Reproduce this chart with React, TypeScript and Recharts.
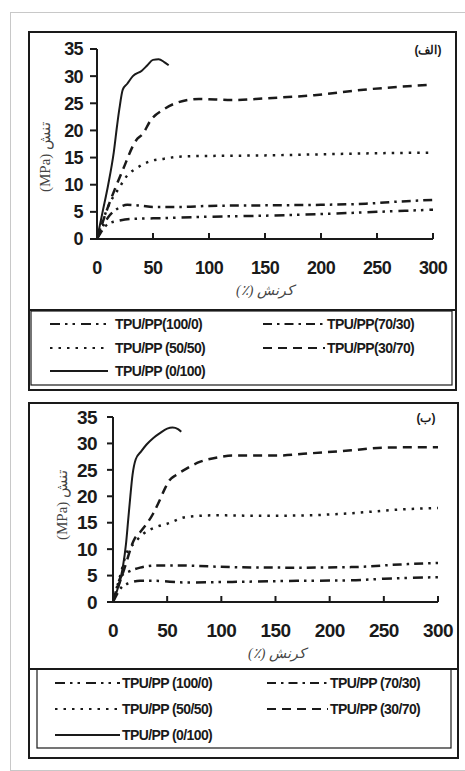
import React from 'react';
import { LineChart, Line, XAxis, YAxis } from 'recharts';

type Pt = { strain: number; stress: number };

const strainTicks = [0, 50, 100, 150, 200, 250, 300];
const stressTicks = [0, 5, 10, 15, 20, 25, 30, 35];

const toPts = (rows: number[][]): Pt[] => rows.map(([strain, stress]) => ({ strain, stress }));

// Panel (الف): stress–strain curves
const alef_100_0 = toPts([[0, 0], [10, 2.8], [20, 3.4], [30, 3.7], [50, 3.8], [100, 4.1], [150, 4.3], [200, 4.6], [250, 5.0], [300, 5.4]]);
const alef_70_30 = toPts([[0, 0], [10, 4.0], [20, 5.8], [27, 6.3], [40, 6.1], [50, 5.9], [75, 5.9], [100, 6.1], [150, 6.2], [200, 6.3], [240, 6.5], [270, 6.9], [300, 7.2]]);
const alef_50_50 = toPts([[0, 0], [10, 6.0], [20, 9.5], [27, 11.7], [35, 13.0], [47, 14.3], [60, 14.8], [76, 15.2], [100, 15.3], [150, 15.4], [200, 15.6], [250, 15.8], [300, 15.9]]);
const alef_30_70 = toPts([[0, 0], [10, 6.0], [23, 12.7], [35, 18.2], [41, 19.4], [48, 21.9], [59, 23.8], [70, 25.0], [91, 25.8], [120, 25.6], [150, 25.9], [194, 26.5], [238, 27.5], [297, 28.4]]);
const alef_0_100 = toPts([[0, 0], [5, 5], [10, 10], [15, 16], [18, 21], [20, 24], [23, 27.5], [27, 28.6], [32, 30], [40, 31], [45, 32], [50, 33], [55, 33.1], [60, 32.6], [64, 32]]);

// Panel (ب): stress–strain curves
const be_100_0 = toPts([[0, 0], [8, 2.8], [15, 3.6], [25, 4.0], [40, 4.0], [65, 3.7], [110, 3.8], [170, 4.0], [220, 4.1], [250, 4.4], [300, 4.7]]);
const be_70_30 = toPts([[0, 0], [8, 5.0], [15, 5.8], [25, 6.5], [40, 6.9], [60, 6.9], [110, 6.6], [170, 6.5], [220, 6.6], [265, 7.1], [300, 7.4]]);
const be_50_50 = toPts([[0, 0], [8, 6.0], [12, 9.0], [20, 11.2], [28, 12.9], [40, 14.2], [50, 14.8], [68, 16.1], [95, 16.4], [140, 16.3], [180, 16.4], [220, 16.8], [265, 17.5], [300, 17.8]]);
const be_30_70 = toPts([[0, 0], [10, 6.0], [20, 12.0], [25, 13.2], [37, 16.7], [43, 19.2], [48, 21.5], [52, 23.0], [58, 24.0], [65, 24.9], [80, 26.5], [98, 27.4], [110, 27.7], [150, 27.7], [180, 28.1], [220, 28.7], [250, 29.2], [300, 29.3]]);
const be_0_100 = toPts([[0, 0], [5, 3], [9, 6.5], [12, 11], [14, 15.5], [16, 20], [18, 24], [21, 27], [26, 28.5], [31, 29.8], [37, 31], [43, 31.9], [50, 32.8], [55, 33], [60, 32.7], [63, 32.2]]);

const alefNames = ['TPU/PP(100/0)', 'TPU/PP(70/30)', 'TPU/PP (50/50)', 'TPU/PP(30/70)', 'TPU/PP (0/100)'];
const beNames = ['TPU/PP (100/0)', 'TPU/PP (70/30)', 'TPU/PP (50/50)', 'TPU/PP (30/70)', 'TPU/PP (0/100)'];

const dashes = ['10 5 2.5 5 2.5 6', '9 5 2.5 5', '2.5 6', '9 6', ''];
const widths = [2.5, 2.5, 2.5, 2.5, 2];

const INK = '#1a1a1a';
const SANS = "'Liberation Sans', Arial, sans-serif";
const SERIF = "'Liberation Serif', 'DejaVu Serif', serif";

type Layout = {
  left: number; top: number; width: number; height: number;
  chartH: number;
  margin: { top: number; right: number; left: number; bottom: number };
  yAxisW: number; xAxisH: number;
  yTickSize: number; yTickMargin: number; tickFont: number;
  xLabelDy: number;
  yTitle: { x: number; y: number };
  xTitle: { x: number; y: number };
  tag: { x: number; y: number; text: string };
  legend: { left: number; top: number; width: number; height: number; rows: number[]; colL: [number, number, number]; colR: [number, number, number] };
};

const XTick = (props: any) => {
  const { x, y, payload, dyLabel, fontSize } = props;
  return (
    <g>
      {payload.value !== 0 && <line x1={x} x2={x} y1={y} y2={y - 6} stroke={INK} strokeWidth={2} />}
      <text x={x} y={y + dyLabel} textAnchor="middle" dominantBaseline="central" fill={INK}
        fontFamily={SANS} fontWeight={700} fontSize={fontSize} letterSpacing={-0.6}>
        {payload.value}
      </text>
    </g>
  );
};

const Panel = ({ layout, series, names }: { layout: Layout; series: Pt[][]; names: string[] }) => {
  const L = layout;
  const lg = L.legend;
  const chartW = L.width;
  return (
    <div style={{ position: 'absolute', left: L.left, top: L.top, width: L.width, height: L.height }}>
      <div style={{ position: 'absolute', left: -2, top: -2, width: L.width, height: L.height, border: `2px solid ${INK}` }} />
      <div style={{ position: 'absolute', left: 0, top: 0 }}>
        <LineChart width={chartW} height={L.chartH} margin={L.margin}>
          <XAxis dataKey="strain" type="number" domain={[0, 300]} ticks={strainTicks} allowDataOverflow
            height={L.xAxisH} tickSize={0} tickMargin={0} tickLine={false} interval={0}
            axisLine={{ stroke: INK, strokeWidth: 2 }}
            tick={<XTick dyLabel={L.xLabelDy} fontSize={L.tickFont} />} />
          <YAxis dataKey="stress" type="number" domain={[0, 35]} ticks={stressTicks} interval={0}
            width={L.yAxisW} tickSize={L.yTickSize} tickMargin={L.yTickMargin}
            axisLine={{ stroke: INK, strokeWidth: 2 }}
            tickLine={{ stroke: INK, strokeWidth: 2 }}
            tick={{ fill: INK, fontSize: L.tickFont, fontWeight: 700, fontFamily: SANS, letterSpacing: -0.6 }} />
          {series.map((d, i) => (
            <Line key={names[i]} data={d} dataKey="stress" name={names[i]} type="monotone"
              stroke={INK} strokeWidth={widths[i]} strokeDasharray={dashes[i] || undefined}
              dot={false} activeDot={false} isAnimationActive={false} />
          ))}
        </LineChart>
      </div>
      <svg width={L.width} height={L.height} style={{ position: 'absolute', left: 0, top: 0, pointerEvents: 'none' }}>
        <text x={L.yTitle.x} y={L.yTitle.y} transform={`rotate(-90 ${L.yTitle.x} ${L.yTitle.y})`}
          textAnchor="middle" dominantBaseline="central" fill="#444" fontFamily={SERIF} fontSize={15}>
          (MPa) تنش
        </text>
        <text x={L.xTitle.x} y={L.xTitle.y} textAnchor="middle" dominantBaseline="central" fill="#444"
          fontFamily={SERIF} fontSize={14} direction="rtl" fontStyle="italic">
          کرنش (٪)
        </text>
        <text x={L.tag.x} y={L.tag.y} textAnchor="middle" dominantBaseline="central" fill={INK}
          fontFamily={SANS} fontWeight={700} fontSize={12} direction="rtl">
          {L.tag.text}
        </text>
        <line x1={0} x2={L.width} y1={L.chartH} y2={L.chartH} stroke={INK} strokeWidth={2} />
        <rect x={lg.left} y={lg.top} width={lg.width} height={lg.height} fill="none" stroke={INK} strokeWidth={1.2} />
        {names.map((n, i) => {
          const col = i % 2 === 0 ? lg.colL : lg.colR;
          const y = lg.top + lg.rows[Math.floor(i / 2)];
          return (
            <g key={n}>
              <line x1={col[0]} x2={col[1]} y1={y} y2={y} stroke={INK} strokeWidth={2} strokeDasharray={dashes[i] || undefined} />
              <text x={col[2]} y={y} dominantBaseline="central" fill={INK} fontFamily={SANS} fontWeight={700}
                fontSize={14} letterSpacing={-0.6}>{n}</text>
            </g>
          );
        })}
      </svg>
    </div>
  );
};

const alefLayout: Layout = {
  left: 30, top: 33, width: 425, height: 356, chartH: 277,
  margin: { top: 16, right: 22, left: 0, bottom: 0 },
  yAxisW: 67, xAxisH: 71,
  yTickSize: 7, yTickMargin: 7, tickFont: 18, xLabelDy: 29,
  yTitle: { x: 15, y: 124 }, xTitle: { x: 235, y: 257 },
  tag: { x: 398, y: 17, text: '(الف)' },
  legend: { left: 1, top: 278, width: 421, height: 74, rows: [13, 37, 60], colL: [20, 78, 85], colR: [233, 295, 297] },
};

const beLayout: Layout = {
  left: 30, top: 404, width: 427, height: 353, chartH: 265,
  margin: { top: 13, right: 19, left: 0, bottom: 0 },
  yAxisW: 83, xAxisH: 67,
  yTickSize: 6, yTickMargin: 10, tickFont: 19, xLabelDy: 28,
  yTitle: { x: 32, y: 101 }, xTitle: { x: 247, y: 249 },
  tag: { x: 396, y: 14, text: '(ب)' },
  legend: { left: 7, top: 265, width: 414, height: 79, rows: [14, 40, 66], colL: [25, 90, 92], colR: [237, 298, 300] },
};

export default function App() {
  return (
    <div style={{ position: 'absolute', left: 0, top: 0, width: 465, height: 771, background: '#fff', overflow: 'hidden' }}>
      <div style={{ position: 'absolute', left: 10, top: 12, width: 470, height: 757, border: '1px solid #c8c8c8' }} />
      <Panel layout={alefLayout} series={[alef_100_0, alef_70_30, alef_50_50, alef_30_70, alef_0_100]} names={alefNames} />
      <Panel layout={beLayout} series={[be_100_0, be_70_30, be_50_50, be_30_70, be_0_100]} names={beNames} />
    </div>
  );
}
